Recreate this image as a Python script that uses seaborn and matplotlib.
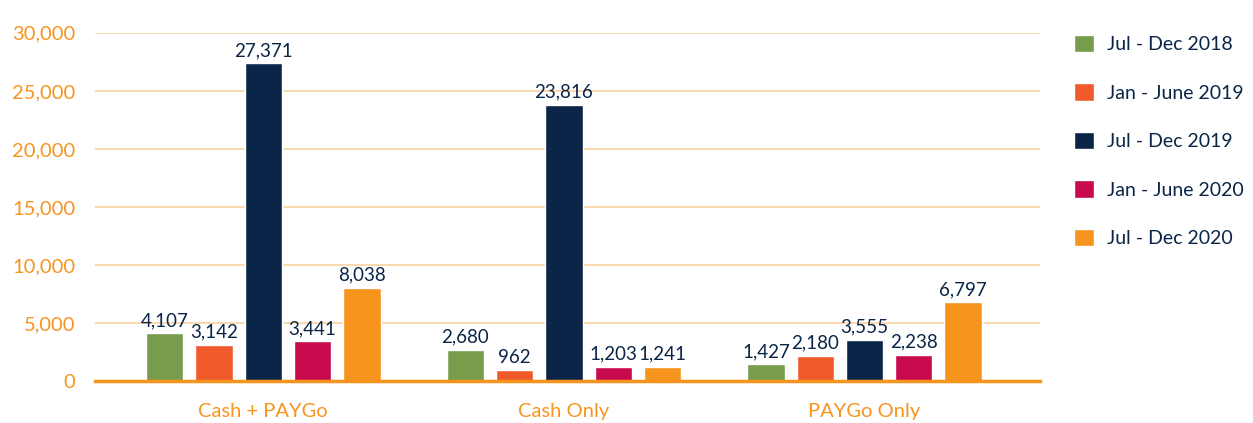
import matplotlib
matplotlib.use('Agg')
import matplotlib.pyplot as plt
import seaborn as sns
import pandas as pd
from matplotlib.ticker import FuncFormatter

categories = ["Cash + PAYGo", "Cash Only", "PAYGo Only"]
periods = ["Jul - Dec 2018", "Jan - June 2019", "Jul - Dec 2019",
           "Jan - June 2020", "Jul - Dec 2020"]
values = {
    "Jul - Dec 2018": [4107, 2680, 1427],
    "Jan - June 2019": [3142, 962, 2180],
    "Jul - Dec 2019": [27371, 23816, 3555],
    "Jan - June 2020": [3441, 1203, 2238],
    "Jul - Dec 2020": [8038, 1241, 6797],
}
colors = ["#779C4B", "#F15A2B", "#0A2548", "#C80B4F", "#F7941E"]

rows = []
for p in periods:
    for c, v in zip(categories, values[p]):
        rows.append({"category": c, "period": p, "value": v})
df = pd.DataFrame(rows)

sns.set_style("white")
plt.rcParams['font.family'] = ['Lato', 'DejaVu Sans']

axis_col = "#F7941E"
navy = "#0A2548"

fig = plt.figure(figsize=(12.53, 4.23), dpi=100)
ax = fig.add_axes([0.0758, 0.0993, 0.754, 0.823])

sns.barplot(data=df, x="category", y="value", hue="period", hue_order=periods,
            palette=colors, width=0.82, gap=0.245, ax=ax, saturation=1)

for cont in ax.containers:
    ax.bar_label(cont, labels=[f"{int(b.get_height()):,}" for b in cont],
                 color=navy, fontsize=13.5, padding=3)

ax.set_ylim(0, 30000)
ax.set_xlim(-0.56, 2.583)
ax.set_yticks(range(0, 30001, 5000))
ax.yaxis.set_major_formatter(FuncFormatter(lambda v, _: f"{int(v):,}"))
ax.grid(axis="y", color="#FBD6A8", linewidth=1.3)
ax.set_axisbelow(True)
for s in ["top", "right", "left"]:
    ax.spines[s].set_visible(False)
ax.spines["bottom"].set_color(axis_col)
ax.spines["bottom"].set_linewidth(2.5)
ax.spines["bottom"].set_zorder(5)
ax.tick_params(axis="both", length=0, colors=axis_col, labelsize=14.5)
ax.tick_params(axis="y", pad=14)
ax.tick_params(axis="x", pad=16)
ax.set_xlabel("")
ax.set_ylabel("")

leg = ax.legend(loc="upper left", bbox_to_anchor=(1.018, 1.045), frameon=False,
                fontsize=14, labelspacing=1.55, handlelength=1.0,
                handleheight=1.0, handletextpad=0.7)
for t in leg.get_texts():
    t.set_color(navy)

fig.savefig("out.png", dpi=100)
